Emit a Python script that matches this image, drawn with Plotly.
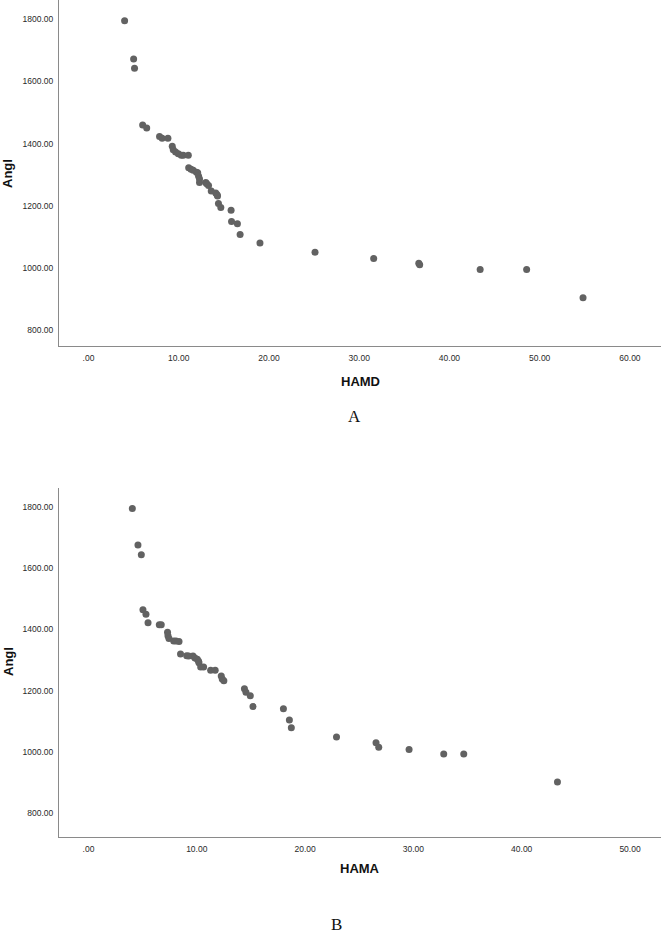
"""
Scatter of Angl against HAMD (A) and HAMA (B), SPSS-style panels.
"""

import plotly.graph_objects as go

# panel A: HAMD vs Angl
HAMD = [4.0, 5.0, 5.1, 6.0, 6.45, 7.87, 8.16, 8.8, 9.28, 9.39, 9.65, 9.95,
        10.28, 10.5, 11.06, 11.1, 11.36, 11.6, 11.96, 12.1, 12.2, 12.3, 12.3,
        13.0, 13.1, 13.3, 13.6, 14.1, 14.25, 14.3, 14.4, 14.66, 15.8, 15.85,
        16.5, 16.8, 19.0, 25.1, 31.6, 36.6, 36.7, 43.4, 48.55, 54.8]
ANGL_A = [1795, 1672, 1642, 1460, 1450, 1423, 1417, 1417, 1391, 1380, 1373, 1367,
          1362, 1362, 1362, 1322, 1317, 1314, 1308, 1306, 1295, 1286, 1275,
          1275, 1271, 1265, 1247, 1241, 1235, 1231, 1207, 1194, 1185, 1149,
          1142, 1107, 1080, 1050, 1030, 1015, 1010, 995, 995, 904]

# panel B: HAMA vs Angl
HAMA = [4.05, 4.57, 4.88, 5.03, 5.31, 5.5, 6.54, 6.72, 7.3, 7.34, 7.43, 7.87,
        8.08, 8.36, 8.5, 9.07, 9.25, 9.65, 9.83, 10.05, 10.17, 10.2, 10.36,
        10.63, 11.28, 11.7, 12.26, 12.35, 12.5, 14.4, 14.54, 14.94, 15.19,
        18.0, 18.55, 18.73, 22.9, 26.55, 26.8, 29.6, 32.8, 34.65, 43.3]
ANGL_B = [1795, 1676, 1644, 1464, 1450, 1422, 1415, 1415, 1391, 1379, 1370, 1362,
          1362, 1361, 1320, 1314, 1313, 1313, 1307, 1303, 1296, 1291, 1277,
          1277, 1267, 1267, 1248, 1238, 1232, 1206, 1195, 1183, 1148,
          1141, 1104, 1079, 1049, 1030, 1015, 1008, 993, 993, 902]

X_TICKS_A = [0, 10, 20, 30, 40, 50, 60]
X_TICKS_B = [0, 10, 20, 30, 40, 50]
Y_TICKS = [800, 1000, 1200, 1400, 1600, 1800]


def _label(v):
    # SPSS drops the leading zero: ".00"
    return ".00" if v == 0 else f"{v:.2f}"


W, H = 661, 934
MARKER = dict(color="#626262", size=7, line=dict(width=0))
AXIS_LINE = "#8a8a8a"
TICK_FONT = dict(family="Liberation Sans, Arial", size=8.5, color="#2a2a2a")

fig = go.Figure()
fig.add_trace(go.Scatter(x=HAMD, y=ANGL_A, mode="markers", marker=MARKER,
                         xaxis="x", yaxis="y", showlegend=False))
fig.add_trace(go.Scatter(x=HAMA, y=ANGL_B, mode="markers", marker=MARKER,
                         xaxis="x2", yaxis="y2", showlegend=False))

left = 59 / W


def xaxis(ticks, rng, anchor):
    return dict(
        domain=[left, 1], range=rng, anchor=anchor, automargin=False,
        tickvals=ticks, ticktext=[_label(t) for t in ticks],
        showline=True, linecolor=AXIS_LINE, linewidth=1,
        showgrid=False, zeroline=False, ticks="", ticklabelstandoff=4,
        tickfont=TICK_FONT,
    )


def yaxis(domain, rng, anchor):
    return dict(
        domain=domain, range=rng, anchor=anchor, automargin=False,
        tickvals=Y_TICKS, ticktext=[_label(t) for t in Y_TICKS],
        showline=True, linecolor=AXIS_LINE, linewidth=1,
        showgrid=False, zeroline=False, ticks="", ticklabelstandoff=3,
        tickfont=TICK_FONT,
    )


fig.update_layout(
    width=W,
    height=H,
    margin=dict(l=0, r=0, t=0, b=0, autoexpand=False),
    plot_bgcolor="white",
    paper_bgcolor="white",
    xaxis=xaxis(X_TICKS_A, [-3.27, 63.44], "y"),
    yaxis=yaxis([1 - 346 / H, 1], [748.5, 1862], "x"),
    xaxis2=xaxis(X_TICKS_B, [-2.72, 52.86], "y2"),
    yaxis2=yaxis([1 - 837 / H, 1 - 488 / H], [722, 1862], "x2"),
)

title_font = dict(family="Liberation Sans, Arial", size=13, color="#111111")
serif_font = dict(family="Liberation Serif, Times New Roman", size=17, color="#111111")


def note(text, x, y, font, angle=0):
    fig.add_annotation(text=text, x=x / W, y=1 - y / H, xref="paper", yref="paper",
                       showarrow=False, font=font, textangle=angle,
                       xanchor="center", yanchor="middle")


note("<b>Angl</b>", 8, 174, title_font, -90)
note("<b>HAMD</b>", 360, 381, title_font)
note("A", 354, 416, serif_font)
note("<b>Angl</b>", 8, 662, title_font, -90)
note("<b>HAMA</b>", 360, 868, title_font)
note("B", 336, 924, serif_font)

# the page body has a default 8px margin; drop it so the figure fills the window
fig.write_html(
    "out.html",
    config={"displayModeBar": False},
    post_script="document.body.style.margin='0';",
)
